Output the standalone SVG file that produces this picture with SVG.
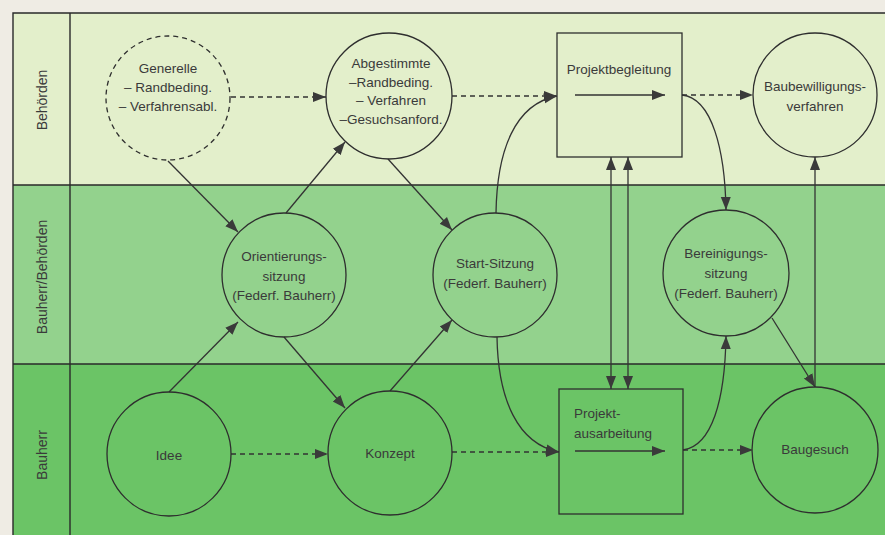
<svg xmlns="http://www.w3.org/2000/svg" width="885" height="535" viewBox="0 0 885 535">
<defs>
<style>
.t{font-family:"Liberation Sans","DejaVu Sans",sans-serif;font-size:13.5px;fill:#3a3a3a;text-anchor:middle}
.tl{font-family:"Liberation Sans","DejaVu Sans",sans-serif;font-size:13.5px;fill:#3a3a3a}
.lane{font-family:"Liberation Sans","DejaVu Sans",sans-serif;font-size:14px;fill:#3a3a3a;text-anchor:middle}
.n{fill:none;stroke:#2e2e2e;stroke-width:1.3}
.c{fill:none;stroke:#333;stroke-width:1.3}
.d{fill:none;stroke:#333;stroke-width:1.3;stroke-dasharray:5,4}
.a{marker-end:url(#ah)}
.b{marker-start:url(#as);marker-end:url(#ah)}
</style>
<marker id="ah" markerUnits="userSpaceOnUse" markerWidth="14" markerHeight="12" refX="13" refY="6" orient="auto">
<path d="M0,1 L13,6 L0,11 Z" fill="#3a3a3a"/>
</marker>
<marker id="as" markerUnits="userSpaceOnUse" markerWidth="14" markerHeight="12" refX="0" refY="6" orient="auto">
<path d="M13,1 L0,6 L13,11 Z" fill="#3a3a3a"/>
</marker>
</defs>
<rect x="0" y="0" width="885" height="535" fill="#efece4"/>
<g id="lanes">
<rect x="13" y="13" width="872" height="172" fill="#e3efcb"/>
<rect x="13" y="185" width="872" height="179" fill="#93d28d"/>
<rect x="13" y="364" width="872" height="171" fill="#6bc466"/>
<path d="M885,13 H13 V535 M70,13 V535 M13,185 H885 M13,364 H885" fill="none" stroke="#2a2a2a" stroke-width="1.4"/>
<text class="lane" transform="translate(47,100) rotate(-90)">Behörden</text>
<text class="lane" transform="translate(47,277) rotate(-90)">Bauherr/Behörden</text>
<text class="lane" transform="translate(47,455) rotate(-90)">Bauherr</text>
</g>
<g id="connectors">
<line class="d a" x1="231" y1="97" x2="326" y2="97"/>
<line class="d a" x1="452" y1="96" x2="557" y2="96"/>
<line class="d a" x1="682" y1="95" x2="753" y2="95"/>
<line class="d a" x1="231" y1="454" x2="328" y2="454"/>
<line class="d a" x1="452" y1="452" x2="559" y2="452"/>
<line class="d a" x1="683" y1="450" x2="753" y2="450"/>
<line class="c a" x1="168" y1="161" x2="238" y2="232"/>
<line class="c a" x1="286" y1="213" x2="345" y2="142"/>
<line class="c a" x1="169" y1="392" x2="238" y2="322"/>
<line class="c a" x1="284" y1="337" x2="345" y2="408"/>
<line class="c a" x1="388" y1="159" x2="452" y2="230"/>
<line class="c a" x1="390" y1="391" x2="452" y2="320"/>
<path class="c a" d="M496,213 C497,150 515,104 557,96"/>
<path class="c a" d="M497,337 C498,400 518,444 559,452"/>
<path class="c a" d="M682,95 C712,98 725,150 726,210"/>
<path class="c a" d="M683,450 C712,446 725,400 726,336"/>
<line class="c a" x1="772" y1="318" x2="815" y2="387"/>
<line class="c a" x1="815" y1="387" x2="815" y2="157"/>
<line class="c b" x1="611" y1="157" x2="611" y2="389"/>
<line class="c b" x1="628" y1="157" x2="628" y2="389"/>
</g>
<g id="generelle">
<circle class="n" cx="168" cy="98" r="62" stroke-dasharray="5,4"/>
<text class="t" x="168" y="73">Generelle</text>
<text class="t" x="168" y="92">– Randbeding.</text>
<text class="t" x="168" y="111">– Verfahrensabl.</text>
</g>
<g id="abgestimmte">
<circle class="n" cx="389" cy="96" r="63"/>
<text class="t" x="391" y="68">Abgestimmte</text>
<text class="t" x="391" y="87">–Randbeding.</text>
<text class="t" x="391" y="105">– Verfahren</text>
<text class="t" x="391" y="124">–Gesuchsanford.</text>
</g>
<g id="projektbegleitung">
<rect class="n" x="557" y="33" width="125" height="124"/>
<text class="t" x="619" y="74">Projektbegleitung</text>
<line class="c a" x1="575" y1="95" x2="665" y2="95"/>
</g>
<g id="baubewilligung">
<circle class="n" cx="815" cy="95" r="62"/>
<text class="t" x="815" y="91">Baubewilligungs-</text>
<text class="t" x="815" y="111">verfahren</text>
</g>
<g id="orientierung">
<circle class="n" cx="284" cy="275" r="62"/>
<text class="t" x="284" y="261">Orientierungs-</text>
<text class="t" x="284" y="281">sitzung</text>
<text class="t" x="284" y="300">(Federf. Bauherr)</text>
</g>
<g id="startsitzung">
<circle class="n" cx="495" cy="275" r="62"/>
<text class="t" x="495" y="268">Start-Sitzung</text>
<text class="t" x="495" y="288">(Federf. Bauherr)</text>
</g>
<g id="bereinigung">
<circle class="n" cx="726" cy="273" r="63"/>
<text class="t" x="726" y="258">Bereinigungs-</text>
<text class="t" x="726" y="278">sitzung</text>
<text class="t" x="726" y="298">(Federf. Bauherr)</text>
</g>
<g id="idee">
<circle class="n" cx="169" cy="454" r="62"/>
<text class="t" x="169" y="460">Idee</text>
</g>
<g id="konzept">
<circle class="n" cx="390" cy="453" r="62"/>
<text class="t" x="390" y="458">Konzept</text>
</g>
<g id="projektausarbeitung">
<rect class="n" x="559" y="389" width="124" height="125"/>
<text class="tl" x="574" y="418">Projekt-</text>
<text class="tl" x="574" y="438">ausarbeitung</text>
<line class="c a" x1="575" y1="451" x2="665" y2="451"/>
</g>
<g id="baugesuch">
<circle class="n" cx="815" cy="450" r="63"/>
<text class="t" x="815" y="454">Baugesuch</text>
</g>
</svg>
